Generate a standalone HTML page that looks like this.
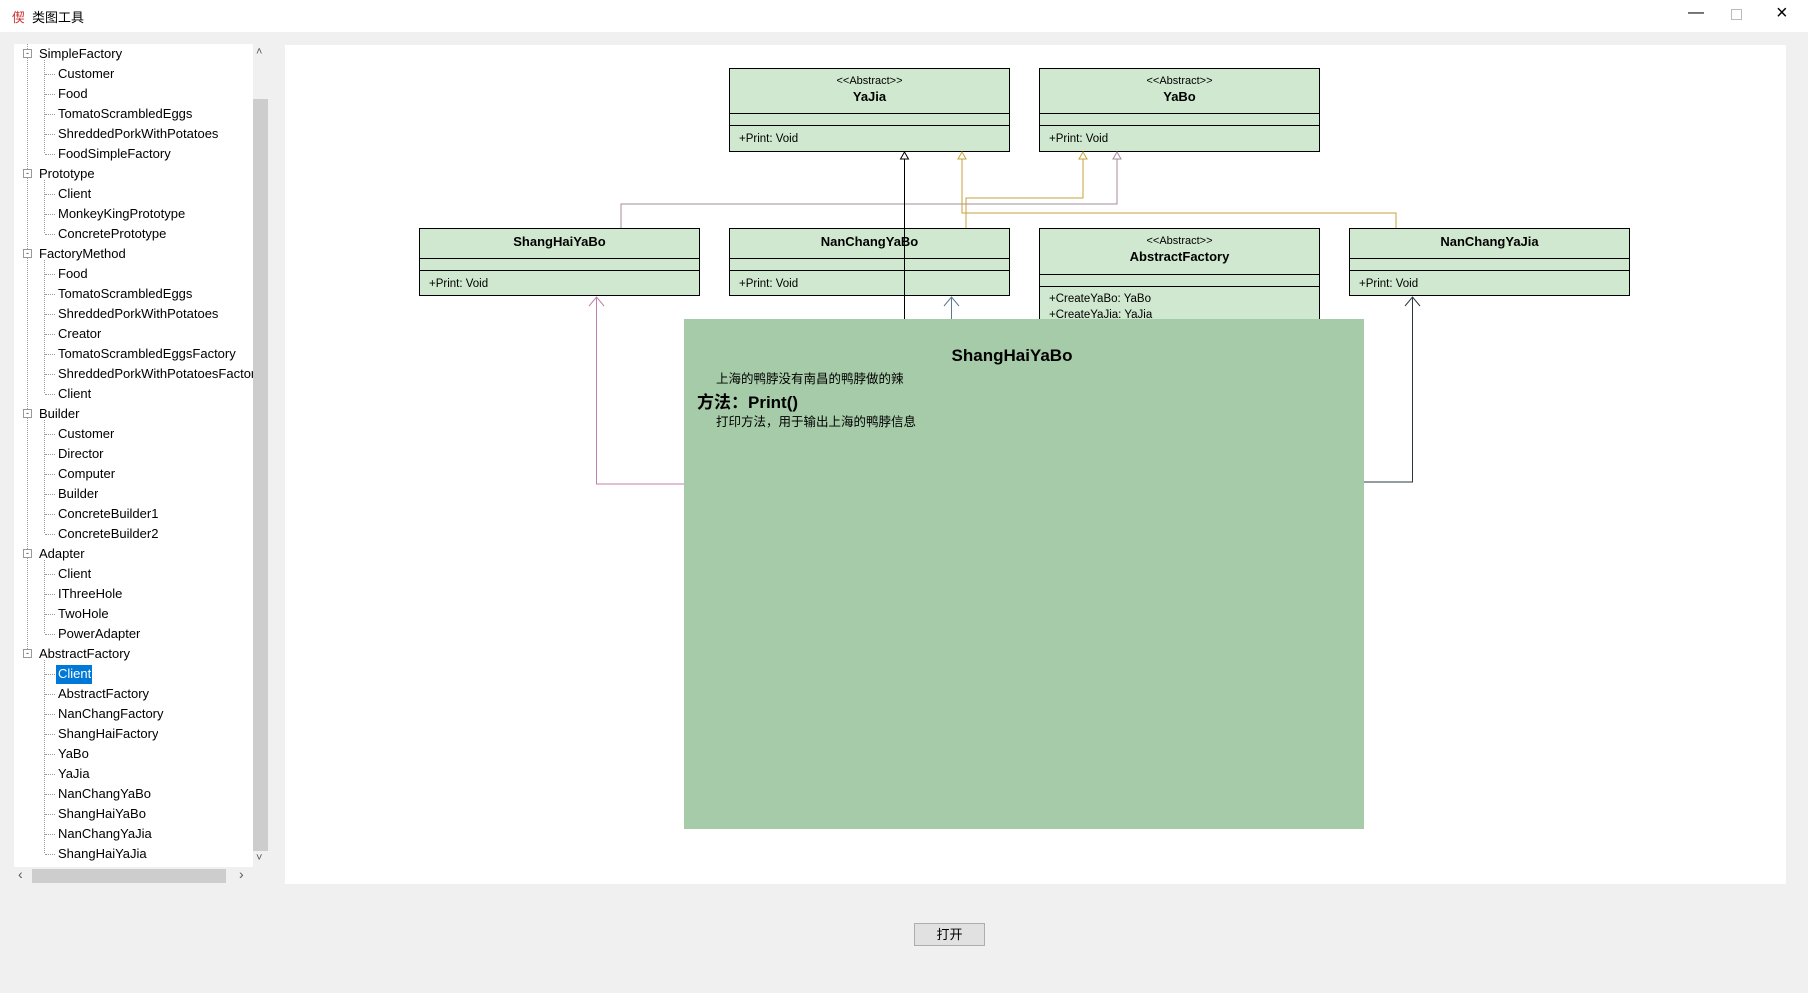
<!DOCTYPE html>
<html><head><meta charset="utf-8"><style>
*{margin:0;padding:0;box-sizing:border-box}
body{width:1808px;height:993px;background:#f0f0f0;position:relative;overflow:hidden;font-family:"Liberation Sans","Noto Sans CJK SC",sans-serif}
.abs{position:absolute}
.tree div{position:absolute;font-size:13px;color:#000;white-space:nowrap;line-height:20px;height:20px}
.box{position:absolute;background:#cfe8cf;border:1px solid #000;font-size:12px}
.box .h{border-bottom:1px solid #000;text-align:center}
.box .e{border-bottom:1px solid #000;height:12px}
.st{font-size:11px;padding-top:6px;line-height:12px}
.nm{font-weight:bold;font-size:13px;line-height:16px;margin-top:2px}
.at{padding-left:9px;font-size:11.5px;line-height:16px}
</style></head><body>
<div class="abs" style="left:0;top:0;width:1808px;height:32px;background:#fff"></div>
<div class="abs" style="left:12px;top:7px;font-size:13px;color:#c33">偰</div>
<div class="abs" style="left:32px;top:7px;font-size:13px">类图工具</div>
<div class="abs" style="left:1688px;top:4px;font-size:16px">—</div>
<div class="abs" style="left:1731px;top:9px;width:11px;height:11px;border:1px solid #bbb"></div>
<div class="abs" style="left:1776px;top:2px;font-size:20px">×</div>

<div class="abs" style="left:14px;top:44px;width:239px;height:823px;background:#fff"></div>
<div class="abs" style="left:253px;top:44px;width:15px;height:823px;background:#f0f0f0"></div>
<div class="abs" style="left:253px;top:99px;width:15px;height:752px;background:#cdcdcd"></div>
<div class="abs" style="left:256px;top:46px;font-size:11px;color:#555">˄</div>
<div class="abs" style="left:256px;top:852px;font-size:11px;color:#555">˅</div>
<div class="abs" style="left:14px;top:867px;width:254px;height:18px;background:#f0f0f0"></div>
<div class="abs" style="left:32px;top:869px;width:194px;height:14px;background:#cdcdcd"></div>
<div class="abs" style="left:18px;top:866px;font-size:14px;color:#555">‹</div>
<div class="abs" style="left:239px;top:866px;font-size:14px;color:#555">›</div>
<div class="abs" style="left:56px;top:665px;width:36px;height:19px;background:#0078d7"></div>

<svg class="abs" style="left:0;top:0" width="300" height="900">
<g stroke="#999" stroke-dasharray="1,1" fill="none">
<line x1="27.5" y1="44" x2="27.5" y2="654"/>
<line x1="44.5" y1="60" x2="44.5" y2="154"/>
<line x1="44.5" y1="180" x2="44.5" y2="234"/>
<line x1="44.5" y1="260" x2="44.5" y2="394"/>
<line x1="44.5" y1="420" x2="44.5" y2="534"/>
<line x1="44.5" y1="560" x2="44.5" y2="634"/>
<line x1="44.5" y1="660" x2="44.5" y2="854"/>
</g>
</svg>
<div class="tree" id="t"></div>
<script>
var items=[["SimpleFactory",0],["Customer",1],["Food",1],["TomatoScrambledEggs",1],["ShreddedPorkWithPotatoes",1],["FoodSimpleFactory",1],
["Prototype",0],["Client",1],["MonkeyKingPrototype",1],["ConcretePrototype",1],
["FactoryMethod",0],["Food",1],["TomatoScrambledEggs",1],["ShreddedPorkWithPotatoes",1],["Creator",1],["TomatoScrambledEggsFactory",1],["ShreddedPorkWithPotatoesFactory",1],["Client",1],
["Builder",0],["Customer",1],["Director",1],["Computer",1],["Builder",1],["ConcreteBuilder1",1],["ConcreteBuilder2",1],
["Adapter",0],["Client",1],["IThreeHole",1],["TwoHole",1],["PowerAdapter",1],
["AbstractFactory",0],["Client",1],["AbstractFactory",1],["NanChangFactory",1],["ShangHaiFactory",1],["YaBo",1],["YaJia",1],["NanChangYaBo",1],["ShangHaiYaBo",1],["NanChangYaJia",1],["ShangHaiYaJia",1]];
var h="";
items.forEach(function(it,i){var y=44+i*20;
if(it[1]==0){h+='<div style="left:23px;top:'+(y+5)+'px;width:9px;height:9px;border:1px solid #999;background:#fff;font-size:9px;line-height:6px;text-align:center;color:#333">-</div>';
h+='<div style="left:39px;top:'+y+'px">'+it[0]+'</div>';}
else{h+='<div style="left:45px;top:'+(y+10)+'px;width:10px;height:0;border-top:1px dotted #999"></div>';
h+='<div style="left:58px;top:'+y+'px;max-width:195px;overflow:hidden;'+(i==31?'color:#fff':'')+'">'+it[0]+'</div>';}
});
document.getElementById('t').innerHTML=h;
</script>

<div class="abs" style="left:285px;top:45px;width:1501px;height:839px;background:#fff"></div>

<div class="box" style="left:729px;top:68px;width:281px;height:84px"><div class="h" style="height:45px"><div class="st">&lt;&lt;Abstract&gt;&gt;</div><div class="nm">YaJia</div></div><div class="e"></div><div class="at" style="padding-top:5px">+Print: Void</div></div>
<div class="box" style="left:1039px;top:68px;width:281px;height:84px"><div class="h" style="height:45px"><div class="st">&lt;&lt;Abstract&gt;&gt;</div><div class="nm">YaBo</div></div><div class="e"></div><div class="at" style="padding-top:5px">+Print: Void</div></div>
<div class="box" style="left:419px;top:228px;width:281px;height:68px"><div class="h" style="height:28px"><div class="nm" style="padding-top:3px">ShangHaiYaBo</div></div><div class="e"></div><div class="at" style="padding-top:5px">+Print: Void</div></div>
<div class="box" style="left:729px;top:228px;width:281px;height:68px"><div class="h" style="height:28px"><div class="nm" style="padding-top:3px">NanChangYaBo</div></div><div class="e"></div><div class="at" style="padding-top:5px">+Print: Void</div></div>
<div class="box" style="left:1039px;top:228px;width:281px;height:110px"><div class="h" style="height:46px"><div class="st">&lt;&lt;Abstract&gt;&gt;</div><div class="nm">AbstractFactory</div></div><div class="e"></div><div class="at" style="padding-top:4px">+CreateYaBo: YaBo<br>+CreateYaJia: YaJia</div></div>
<div class="box" style="left:1349px;top:228px;width:281px;height:68px"><div class="h" style="height:28px"><div class="nm" style="padding-top:3px">NanChangYaJia</div></div><div class="e"></div><div class="at" style="padding-top:5px">+Print: Void</div></div>

<svg class="abs" style="left:0;top:0" width="1808" height="993" fill="none">
<polyline points="1117,157 1117,204 621,204 621,228" stroke="#a88a9c"/>
<polygon points="1117,152 1113,159 1121,159" stroke="#a88a9c" fill="#fff"/>
<polyline points="1083,157 1083,198 966,198 966,228" stroke="#c8a23a"/>
<polygon points="1083,152 1079,159 1087,159" stroke="#c8a23a" fill="#fff"/>
<polyline points="962,157 962,213 1396,213 1396,228" stroke="#c8a23a"/>
<polygon points="962,152 958,159 966,159" stroke="#c8a23a" fill="#fff"/>
<line x1="904.5" y1="157" x2="904.5" y2="320" stroke="#000"/>
<polygon points="904.5,152 900.5,159 908.5,159" stroke="#000" fill="#fff"/>
<line x1="951.5" y1="297" x2="951.5" y2="320" stroke="#5a7a90"/>
<polyline points="944,306 951.5,297 959,306" stroke="#5a7a90"/>
<polyline points="596.5,297 596.5,484 684,484" stroke="#c080b0"/>
<polyline points="589,306 596.5,297 604,306" stroke="#c080b0"/>
<polyline points="1412.5,297 1412.5,482 1364,482" stroke="#2a3a40"/>
<polyline points="1405,306 1412.5,297 1420,306" stroke="#2a3a40"/>
</svg>

<div class="abs" style="left:684px;top:319px;width:680px;height:510px;background:#a6cba8"></div>
<div class="abs" style="left:684px;top:346px;width:656px;text-align:center;font-weight:bold;font-size:17px">ShangHaiYaBo</div>
<div class="abs" style="left:716px;top:368px;font-size:12.5px">上海的鸭脖没有南昌的鸭脖做的辣</div>
<div class="abs" style="left:697px;top:388px;font-size:17px;font-weight:bold">方法：Print()</div>
<div class="abs" style="left:716px;top:411px;font-size:12.5px">打印方法，用于输出上海的鸭脖信息</div>

<div class="abs" style="left:914px;top:923px;width:71px;height:23px;border:1px solid #adadad;background:#e1e1e1;font-size:13px;text-align:center;line-height:21px">打开</div>
</body></html>
